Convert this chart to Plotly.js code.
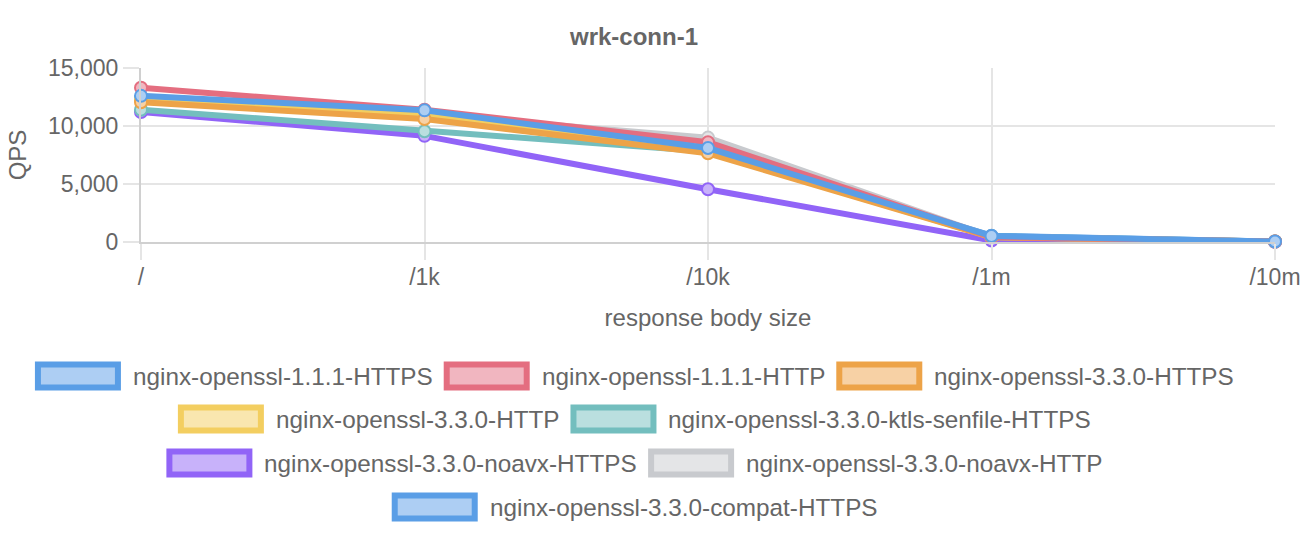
<!DOCTYPE html>
<html>
<head>
<meta charset="utf-8">
<script src="https://cdn.plot.ly/plotly-3.0.1.min.js"></script>
<style>html,body{margin:0;padding:0;background:#fff}#chart{width:1308px;height:542px}</style>
</head>
<body>
<div id="chart"></div>
<script>
// ---- data ----
const categories = ["/", "/1k", "/10k", "/1m", "/10m"];
const seriesNames = [
  "nginx-openssl-1.1.1-HTTPS",
  "nginx-openssl-1.1.1-HTTP",
  "nginx-openssl-3.3.0-HTTPS",
  "nginx-openssl-3.3.0-HTTP",
  "nginx-openssl-3.3.0-ktls-senfile-HTTPS",
  "nginx-openssl-3.3.0-noavx-HTTPS",
  "nginx-openssl-3.3.0-noavx-HTTP",
  "nginx-openssl-3.3.0-compat-HTTPS"
];
const qps_111_https        = [12600, 11350, 8100, 520, 45];
const qps_111_http         = [13300, 11400, 8600, 450, 40];
const qps_330_https        = [12050, 10600, 7650, 400, 40];
const qps_330_http         = [12300, 10900, 7750, 420, 40];
const qps_330_ktls_https   = [11400, 9550, 7800, 500, 45];
const qps_330_noavx_https  = [11200, 9150, 4550, 130, 10];
const qps_330_noavx_http   = [12200, 11000, 9000, 450, 40];
const qps_330_compat_https = [12400, 11300, 7850, 540, 45];
const seriesValues = [qps_111_https, qps_111_http, qps_330_https, qps_330_http,
  qps_330_ktls_https, qps_330_noavx_https, qps_330_noavx_http, qps_330_compat_https];
const yTickVals = [0, 5000, 10000, 15000];

// ---- styles ----
const lineColors = ["rgb(90,158,230)", "rgb(228,110,128)", "rgb(237,163,72)", "rgb(243,206,96)",
  "rgb(115,190,190)", "rgb(145,100,247)", "rgb(200,202,206)", "rgb(90,158,230)"];
const fillColors = ["rgb(173,206,243)", "rgb(241,182,192)", "rgb(247,209,165)", "rgb(249,230,175)",
  "rgb(186,223,223)", "rgb(200,178,250)", "rgb(228,229,231)", "rgb(173,206,243)"];

const W = 1308, H = 542;
const M = {l: 141, r: 33, t: 68, b: 300};
const PW = W - M.l - M.r, PH = H - M.t - M.b;
const FONT = "Liberation Sans, Arial, Helvetica, sans-serif";
const TXT = "#666";

// traces (reverse order so first dataset is drawn on top)
const traces = [];
for (let i = seriesNames.length - 1; i >= 0; i--) {
  traces.push({
    type: "scatter", mode: "lines+markers",
    name: seriesNames[i], x: categories, y: seriesValues[i],
    line: {color: lineColors[i], width: 6},
    marker: {size: 12, color: fillColors[i], line: {color: lineColors[i], width: 2}},
    cliponaxis: false, showlegend: false, hoverinfo: "skip"
  });
}

// legend built from shapes + annotations, rows centered
const rows = [[0, 1, 2], [3, 4], [5, 6], [7]];
const rowCY = [376, 419, 463, 507];
const LEG_FS = 24.3;
const cvs = document.createElement("canvas").getContext("2d");
cvs.font = LEG_FS + "px 'Liberation Sans'";
const boxW = 86, boxH = 29, gapBT = 11, gapItem = 12, centerX = 634;
const shapes = [], annotations = [];
const px2x = p => (p - M.l) / PW;
const px2y = p => (M.t + PH - p) / PH;
rows.forEach((row, r) => {
  const widths = row.map(i => cvs.measureText(seriesNames[i]).width);
  let total = 0;
  row.forEach((i, k) => { total += boxW + gapBT + widths[k]; });
  total += gapItem * (row.length - 1);
  let x = centerX - total / 2;
  const cy = rowCY[r];
  row.forEach((i, k) => {
    shapes.push({type: "rect", xref: "paper", yref: "paper",
      x0: px2x(x + 3), x1: px2x(x + boxW - 3),
      y0: px2y(cy + boxH / 2 - 3), y1: px2y(cy - boxH / 2 + 3),
      line: {color: lineColors[i], width: 6}, fillcolor: fillColors[i]});
    annotations.push({xref: "paper", yref: "paper", x: px2x(x + boxW + gapBT - 1), y: px2y(cy),
      xanchor: "left", yanchor: "middle", showarrow: false, text: seriesNames[i],
      font: {family: FONT, size: LEG_FS, color: TXT}});
    x += boxW + gapBT + widths[k] + gapItem;
  });
});

const layout = {
  width: W, height: H, margin: M,
  paper_bgcolor: "#fff", plot_bgcolor: "#fff",
  font: {family: FONT, color: TXT, size: 23},
  showlegend: false,
  title: {text: "<b>wrk-conn-1</b>", font: {family: FONT, size: 24, color: TXT},
    xref: "container", x: centerX / W, xanchor: "center",
    yref: "container", y: 1 - 37 / H, yanchor: "middle"},
  xaxis: {type: "category", range: [0, categories.length - 1], fixedrange: true,
    showgrid: true, gridcolor: "#e5e5e5", gridwidth: 2,
    showline: true, linecolor: "#d0d0d0", linewidth: 2,
    ticks: "outside", ticklen: 16, tickwidth: 2, tickcolor: "#e5e5e5",
    ticklabelstandoff: -3,
    tickfont: {size: 23, color: TXT},
    title: {text: "response body size", font: {size: 24, color: TXT}, standoff: 21}},
  yaxis: {range: [0, 15000], tickvals: yTickVals, tickformat: ",d", fixedrange: true,
    showgrid: true, gridcolor: "#e5e5e5", gridwidth: 2, zeroline: false,
    showline: true, linecolor: "#d0d0d0", linewidth: 2,
    ticks: "outside", ticklen: 16, tickwidth: 2, tickcolor: "#e5e5e5",
    tickfont: {size: 23, color: TXT},
    title: {text: "QPS", font: {size: 24, color: TXT}, standoff: 15}},
  shapes: shapes, annotations: annotations
};

Plotly.newPlot("chart", traces, layout, {staticPlot: true, displayModeBar: false});
</script>
</body>
</html>
